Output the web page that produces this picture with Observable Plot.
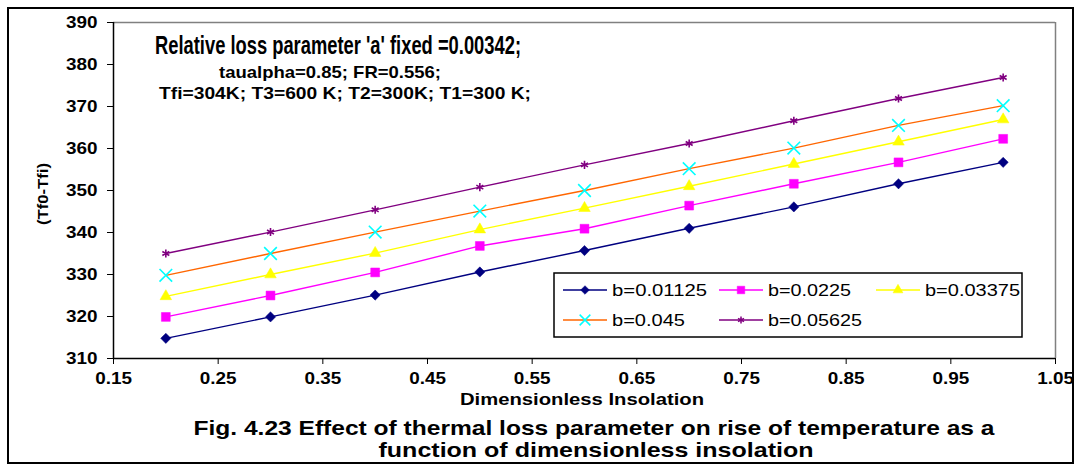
<!DOCTYPE html>
<html>
<head>
<meta charset="utf-8">
<script src="https://cdn.jsdelivr.net/npm/d3@7"></script>
<script src="https://cdn.jsdelivr.net/npm/@observablehq/plot@0.6"></script>
<style>
  body { margin: 0; background: #fff; }
  #chart { position: relative; width: 1075px; height: 468px; }
</style>
</head>
<body>
<div id="chart"></div>
<script>
// ---------- data ----------
const xValues = [0.2, 0.3, 0.4, 0.5, 0.6, 0.7, 0.8, 0.9, 1.0];
const seriesNames = ["b=0.01125", "b=0.0225", "b=0.03375", "b=0.045", "b=0.05625"];
const b01125 = [314.8, 319.9, 325.1, 330.6, 335.7, 341.0, 346.1, 351.6, 356.7];
const b0225  = [319.9, 325.0, 330.5, 336.8, 340.9, 346.4, 351.6, 356.7, 362.3];
const b03375 = [324.8, 330.0, 335.1, 340.7, 345.8, 351.0, 356.3, 361.6, 366.9];
const b045   = [329.8, 335.0, 340.1, 345.1, 350.0, 355.2, 360.1, 365.5, 370.2];
const b05625 = [335.0, 340.1, 345.4, 350.8, 356.1, 361.2, 366.6, 371.9, 376.9];
const seriesValues = [b01125, b0225, b03375, b045, b05625];
const xTicks = [0.15, 0.25, 0.35, 0.45, 0.55, 0.65, 0.75, 0.85, 0.95, 1.05];
const yTicks = [310, 320, 330, 340, 350, 360, 370, 380, 390];
const titleLines = [
  "Relative loss parameter 'a' fixed =0.00342;",
  "taualpha=0.85; FR=0.556;",
  "Tfi=304K; T3=600 K; T2=300K; T1=300 K;"
];
const xLabel = "Dimensionless Insolation";
const yLabel = "(Tf0-Tfi)";
const captionLines = [
  "Fig. 4.23 Effect of thermal loss parameter on rise of temperature as a",
  "function of dimensionless insolation"
];

// ---------- styles ----------
const seriesStyle = [
  {line: "#000080", marker: "#000080", symbol: "diamond2", r: 4.6, filled: true},
  {line: "#FF00FF", marker: "#FF00FF", symbol: "square",   r: 5.0, filled: true},
  {line: "#FFFF00", marker: "#FFFF00", symbol: "triangle", r: 4.3, filled: true},
  {line: "#FF6600", marker: "#00FFFF", symbol: "times",    r: 5.8, filled: false},
  {line: "#800080", marker: "#800080", symbol: "asterisk", r: 3.8, filled: false}
];
const xDomain = [xTicks[0], xTicks[xTicks.length - 1]];
const yDomain = [yTicks[0], yTicks[yTicks.length - 1]];

// ---------- table ----------
const rows = [];
seriesNames.forEach((name, i) => xValues.forEach((x, j) => rows.push({series: name, i, x, y: seriesValues[i][j]})));

const marks = [
  Plot.ruleY([yDomain[1]], {stroke: "#808080", strokeWidth: 1.5}),
  Plot.ruleX([xDomain[1]], {stroke: "#808080", strokeWidth: 1.5}),
  Plot.axisX({ticks: xTicks, tickFormat: d3.format(".2f"), tickSize: 6, tickPadding: 8, label: null}),
  Plot.axisY({ticks: yTicks, tickFormat: d3.format("d"), tickSize: 6, tickPadding: 10, label: null}),
  Plot.ruleX([xDomain[0]], {stroke: "#000", strokeWidth: 1.5}),
  Plot.ruleY([yDomain[0]], {stroke: "#000", strokeWidth: 1.5})
];
seriesNames.forEach((name, i) => {
  const d = rows.filter(r => r.i === i);
  const s = seriesStyle[i];
  marks.push(Plot.line(d, {x: "x", y: "y", stroke: s.line, strokeWidth: 1.4}));
  marks.push(Plot.dot(d, s.filled
    ? {x: "x", y: "y", symbol: s.symbol, r: s.r, fill: s.marker, stroke: s.marker, strokeWidth: 0.5}
    : {x: "x", y: "y", symbol: s.symbol, r: s.r, fill: "none", stroke: s.marker, strokeWidth: 1.6}));
});

const plot = Plot.plot({
  width: 1075, height: 468,
  marginLeft: 113, marginRight: 20, marginTop: 22, marginBottom: 110,
  x: {domain: xDomain},
  y: {domain: yDomain},
  style: {fontFamily: "'Liberation Sans', Arial, sans-serif", fontSize: "16px", fontWeight: "bold", background: "white", color: "black", overflow: "visible"},
  marks
});
document.getElementById("chart").appendChild(plot);

// ---------- widen tick labels like the original ----------
const svg = d3.select(plot);
svg.selectAll('g[aria-label="x-axis tick label"] text, g[aria-label="y-axis tick label"] text').each(function() {
  const len = this.getComputedTextLength();
  if (len > 0) d3.select(this).attr("textLength", len * 1.18).attr("lengthAdjust", "spacingAndGlyphs");
});

// ---------- extra decorations ----------
svg.append("rect").attr("x", 8).attr("y", 8).attr("width", 1065).attr("height", 455)
  .attr("fill", "none").attr("stroke", "#000").attr("stroke-width", 2);

function addText(str, o) {
  const t = svg.append("text").text(str)
    .attr("x", o.x).attr("y", o.y)
    .attr("text-anchor", o.anchor || "middle")
    .attr("font-family", o.family || "'Liberation Sans', Arial, sans-serif")
    .attr("font-size", o.size)
    .attr("font-weight", o.weight || "bold")
    .attr("fill", "#000");
  if (o.width) t.attr("textLength", o.width).attr("lengthAdjust", "spacingAndGlyphs");
  if (o.rotate) t.attr("transform", `rotate(${o.rotate},${o.x},${o.y})`);
  return t;
}
const narrow = "'Liberation Sans Narrow', 'Arial Narrow', 'Liberation Sans', Arial, sans-serif";
addText(titleLines[0], {x: 338, y: 54, size: 25, width: 366, family: narrow});
addText(titleLines[1], {x: 330, y: 78, size: 17, width: 222, family: narrow});
addText(titleLines[2], {x: 345, y: 99, size: 17, width: 372, family: narrow});
addText(xLabel, {x: 582, y: 405, size: 16, width: 244, family: narrow});
addText(yLabel, {x: 48, y: 194, size: 14, width: 62, family: narrow, rotate: -90});
addText(captionLines[0], {x: 594, y: 435, size: 21, width: 801, family: narrow});
addText(captionLines[1], {x: 596, y: 457, size: 21, width: 435, family: narrow});

// legend
svg.append("rect").attr("x", 554).attr("y", 273).attr("width", 468).attr("height", 64)
  .attr("fill", "#fff").attr("stroke", "#000").attr("stroke-width", 1.5);
const legendCols = [563, 719, 876];
const legendRows = [290, 320];
const legendTextW = [95, 83, 95, 73, 94];
const symMap = {diamond2: d3.symbolDiamond2, square: d3.symbolSquare, triangle: d3.symbolTriangle, times: d3.symbolTimes, asterisk: d3.symbolAsterisk};
seriesNames.forEach((name, i) => {
  const s = seriesStyle[i];
  const x0 = legendCols[i % 3], y0 = legendRows[Math.floor(i / 3)];
  svg.append("line").attr("x1", x0).attr("x2", x0 + 44).attr("y1", y0).attr("y2", y0)
    .attr("stroke", s.line).attr("stroke-width", 1.5);
  const rr = s.r * 0.85;
  svg.append("path").attr("transform", `translate(${x0 + 22},${y0})`)
    .attr("d", d3.symbol(symMap[s.symbol], Math.PI * rr * rr)())
    .attr("fill", s.filled ? s.marker : "none")
    .attr("stroke", s.marker).attr("stroke-width", s.filled ? 0.5 : 1.5);
  addText(name, {x: x0 + 49, y: y0 + 6, size: 17, weight: "normal", anchor: "start", width: legendTextW[i]});
});
</script>
</body>
</html>
